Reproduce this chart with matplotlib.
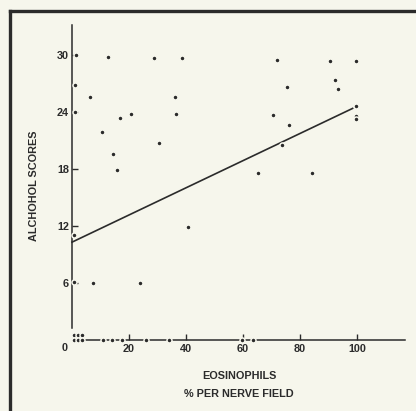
import matplotlib
matplotlib.use("Agg")
import matplotlib.pyplot as plt
from matplotlib.lines import Line2D
import numpy as np

# Eosinophils (% per nerve field) against alcohol scores, one dot per subject
eosinophils = [1.3, 12.6, 28.7, 38.7, 1.0, 6.4, 36.1, 1.0, 16.7, 20.6, 36.4,
               10.4, 30.4, 14.3, 15.9, 71.9, 90.4, 99.8, 92.2, 93.3, 75.3,
               99.8, 99.8, 99.8, 70.5, 76.2, 73.7, 65.4, 84.1, 0.7, 40.6,
               0.7, 7.3, 24.0,
               0.7, 2.1, 3.5,
               0.7, 2.1, 3.5, 10.8, 13.9, 17.6, 25.9, 34.1, 59.8, 63.6]
alcohol_scores = [30.0, 29.8, 29.7, 29.7, 26.8, 25.6, 25.6, 24.0, 23.4, 23.8, 23.8,
                  21.9, 20.7, 19.6, 17.9, 29.5, 29.4, 29.4, 27.4, 26.4, 26.6,
                  24.6, 23.6, 23.3, 23.7, 22.6, 20.5, 17.6, 17.6, 11.0, 11.9,
                  6.1, 6.0, 6.0,
                  0.55, 0.55, 0.55,
                  0, 0, 0, 0, 0, 0, 0, 0, 0, 0]

# Fitted regression line
fit_intercept = 10.3
fit_slope = 0.143
fit_range = [0, 98.5]

x_ticks = [20, 40, 60, 80, 100]
y_ticks = [6, 12, 18, 24, 30]

BG = "#f6f6ec"
INK = "#2b2b2b"
FONT = "Liberation Sans"
FS = 7.8

fig = plt.figure(figsize=(4.16, 4.11), dpi=100, facecolor=BG)
ax = fig.add_axes([0.1388, 0.1381, 0.9815 - 0.1388, 0.9586 - 0.1381])
ax.set_facecolor(BG)
ax.set_xlim(-5, 118)
ax.set_ylim(-1.5, 34)

# Axes drawn as free-standing lines through the origin
for side in ("top", "right"):
    ax.spines[side].set_visible(False)
ax.spines["left"].set_position(("data", 0))
ax.spines["bottom"].set_position(("data", 0))
ax.spines["left"].set_bounds(1.3, 33.2)
ax.spines["bottom"].set_bounds(4.5, 117)
for side in ("left", "bottom"):
    ax.spines[side].set_color(INK)
    ax.spines[side].set_linewidth(1.1)

ax.set_xticks(x_ticks)
ax.set_yticks(y_ticks)
ax.tick_params(direction="in", length=4.5, width=1.0, color=INK,
               labelsize=FS, labelcolor=INK)
ax.tick_params(axis="x", pad=3)
ax.tick_params(axis="y", pad=2)
for lab in ax.get_xticklabels() + ax.get_yticklabels():
    lab.set_fontfamily(FONT)
    lab.set_fontweight("bold")

# Origin label sits just left of the corner
ax.text(-2.6, -0.84, "0", ha="center", va="center",
        fontsize=FS, fontweight="bold", color=INK, family=FONT)

# Regression line
fx = np.array(fit_range)
ax.plot(fx, fit_intercept + fit_slope * fx, color=INK, lw=1.2, zorder=3)

# Data points, haloed so they break the axis line
ax.plot(eosinophils, alcohol_scores, "o", ms=3.6, color=INK,
        mec=BG, mew=1.1, zorder=4, clip_on=False)

ax.set_xlabel("EOSINOPHILS\n% PER NERVE FIELD", fontsize=FS,
              fontweight="bold", color=INK, family=FONT, linespacing=2.0)
ax.xaxis.set_label_coords((239 - 57.75) / (408.3 - 57.75), -(371 - 354.25) / 337.25)
ax.set_ylabel("ALCHOHOL SCORES", fontsize=FS, fontweight="bold",
              color=INK, family=FONT, labelpad=13)

# Heavy frame along the top and left edge
fig.add_artist(Line2D([10 / 416, 10 / 416], [0, 1 - 11 / 411], color=INK, lw=2.4,
                      transform=fig.transFigure, solid_capstyle="projecting"))
fig.add_artist(Line2D([10 / 416, 1], [1 - 11 / 411, 1 - 11 / 411], color=INK, lw=2.4,
                      transform=fig.transFigure, solid_capstyle="projecting"))

fig.savefig("out.png", dpi=100, facecolor=BG)
